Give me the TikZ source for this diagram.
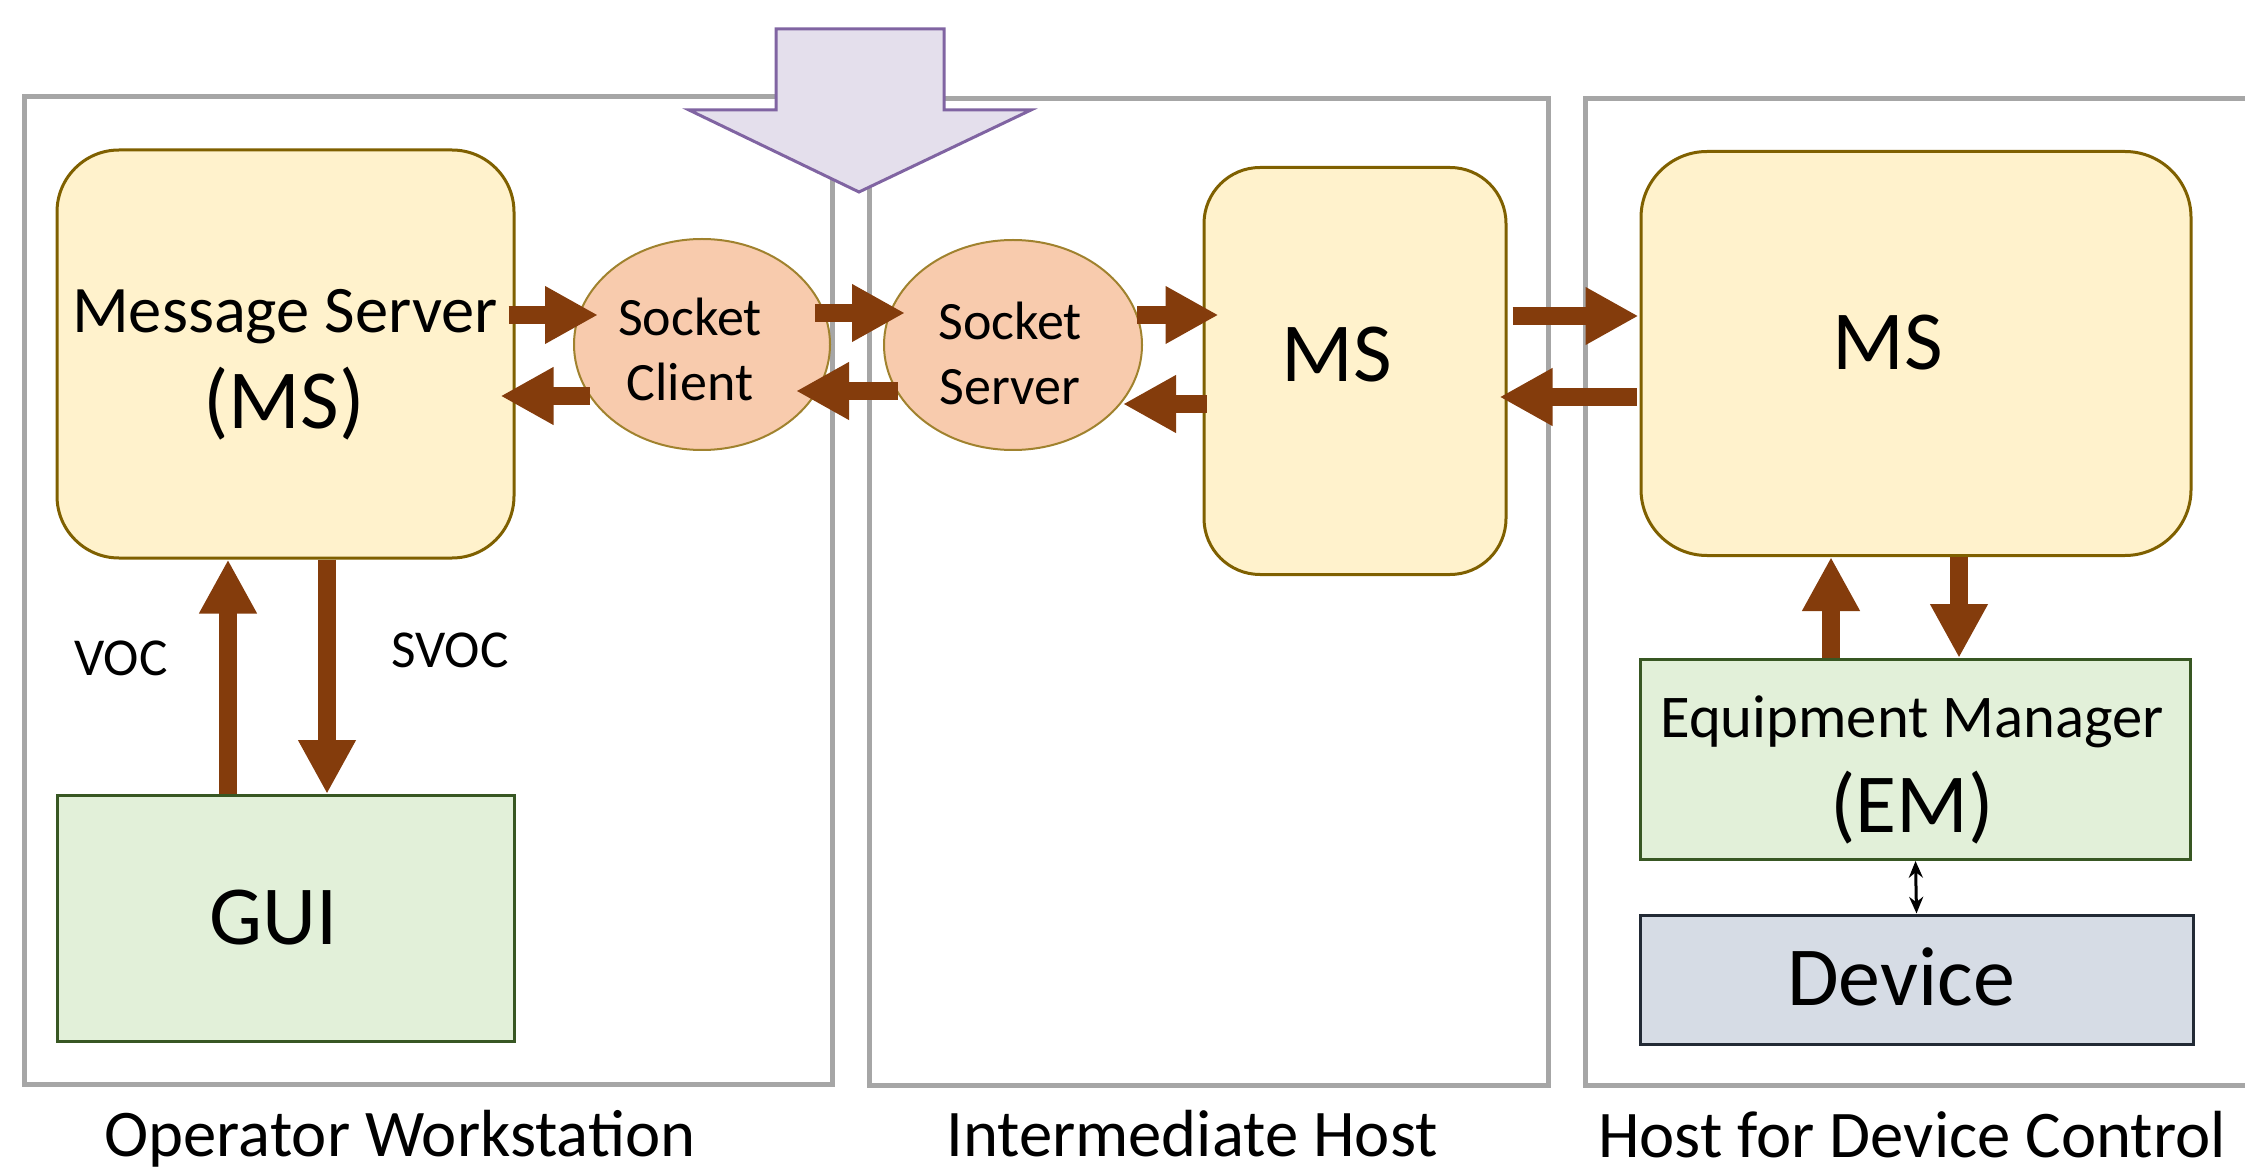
\documentclass[tikz,border=0pt]{standalone}
\usepackage{fontspec}
\setmainfont{Carlito}
\usetikzlibrary{arrows.meta,shapes.geometric,calc}
\newlength\pxu
\setlength\pxu{0.3pt}
\definecolor{msfill}{HTML}{FFF2CC}
\definecolor{msdraw}{HTML}{7F6000}
\definecolor{skfill}{HTML}{F8CBAD}
\definecolor{skdraw}{HTML}{A0822E}
\definecolor{gfill}{HTML}{E2F0D9}
\definecolor{gdraw}{HTML}{385723}
\definecolor{dfill}{HTML}{D6DCE5}
\definecolor{ddraw}{HTML}{222A35}
\definecolor{arrowbrown}{HTML}{843C0C}
\definecolor{framegray}{HTML}{A6A6A6}
\definecolor{pfill}{HTML}{E4DFEC}
\definecolor{pdraw}{HTML}{8064A2}
\begin{document}
\begin{tikzpicture}[x=0.3pt,y=-0.3pt,
  frame/.style={draw=framegray,line width=1.5pt},
  msbox/.style={rectangle,draw=msdraw,fill=msfill,line width=0.9pt,inner sep=0pt},
  sock/.style={ellipse,draw=skdraw,fill=skfill,line width=0.6pt,inner sep=0pt},
  gbox/.style={rectangle,draw=gdraw,fill=gfill,line width=0.9pt,inner sep=0pt},
  dbox/.style={rectangle,draw=ddraw,fill=dfill,line width=0.9pt,inner sep=0pt},
  fat/.style={draw=arrowbrown,line width=5.4pt,-{Triangle[width=16.2pt,length=15.9pt]}},
  fatv/.style={draw=arrowbrown,line width=5.6pt,-{Triangle[width=16.2pt,length=16.2pt]}},
  txt/.style={anchor=base,inner sep=0pt,font=\fontsize{25.2pt}{29pt}\selectfont},
  sktxt/.style={txt,font=\fontsize{16.2pt}{19pt}\selectfont},
  lbl/.style={anchor=base,inner sep=0pt,font=\fontsize{20pt}{24pt}\selectfont}
]
\useasboundingbox (0,0) rectangle (2245,1170);

% host frames
\draw[frame] (24,97) rectangle (832,1084);
\draw[frame] (869,99) rectangle (1548,1085);
\draw[frame] (2245,99) -- (1585,99) -- (1585,1085) -- (2245,1085);

% purple block arrow
\draw[draw=pdraw,fill=pfill,line width=0.9pt,line join=miter]
  (776,29) -- (944,29) -- (944,110) -- (1031,110) -- (859,192) -- (689,110) -- (776,110) -- cycle;

% boxes
\node[msbox,rounded corners=62\pxu,minimum width=457\pxu,minimum height=408\pxu] (ms1) at (285.5,354) {};
\node[msbox,rounded corners=56\pxu,minimum width=302\pxu,minimum height=407\pxu] (ms2) at (1355,371) {};
\node[msbox,rounded corners=66\pxu,minimum width=550\pxu,minimum height=404\pxu] (ms3) at (1916,353.5) {};
\node[sock,minimum width=256\pxu,minimum height=211\pxu] (sc) at (702,344.5) {};
\node[sock,minimum width=258\pxu,minimum height=210\pxu] (ss) at (1013,345) {};
\node[gbox,minimum width=457\pxu,minimum height=246\pxu] (gui) at (285.5,918.5) {};
\node[gbox,minimum width=550\pxu,minimum height=200\pxu] (em) at (1915.5,759.5) {};
\node[dbox,minimum width=553\pxu,minimum height=129\pxu] (dev) at (1916.5,979.5) {};

% texts
\node[txt,font=\fontsize{19.95pt}{24pt}\selectfont] (t1) at (285,333) {Message Server};
\node[txt] (t2) at (284,429) {(MS)};
\node[sktxt] (t3) at (690,336) {Socket};
\node[sktxt] (t4) at (690,401) {Client};
\node[sktxt] (t5) at (1010,340) {Socket};
\node[sktxt] (t6) at (1010,405) {Server};
\node[txt] (t7) at (1337,382) {MS};
\node[txt] (t8) at (1888,370) {MS};
\node[txt] (t9) at (274,944) {GUI};
\node[txt,font=\fontsize{18.2pt}{22pt}\selectfont] (t10) at (1912,737) {Equipment Manager};
\node[txt] (t11) at (1912,832) {(EM)};
\node[txt] (t12) at (1901,1005) {Device};
\node[txt,font=\fontsize{16pt}{19pt}\selectfont] (voc) at (121,675) {VOC};
\node[txt,font=\fontsize{16pt}{19pt}\selectfont] (svoc) at (450,667) {SVOC};
\node[lbl] (h1) at (400,1156) {Operator Workstation};
\node[lbl] (h2) at (1192,1156) {Intermediate Host};
\node[lbl] (h3) at (1912,1157) {Host for Device Control};

% horizontal fat arrows
\draw[fat] ($(ms1.east |- 0,315)+(-7,0)$) -- ($(sc.west |- 0,315)+(25,0)$);
\draw[fat] ($(sc.west |- 0,396)+(17,0)$) -- ($(ms1.east |- 0,396)+(-15,0)$);
\draw[fat] ($(sc.east |- 0,313)+(-16,0)$) -- ($(ss.west |- 0,313)+(22,0)$);
\draw[fat] ($(ss.west |- 0,391)+(15,0)$) -- ($(sc.east |- 0,391)+(-35,0)$);
\draw[fat] ($(ss.east |- 0,315)+(-6,0)$) -- ($(ms2.west |- 0,315)+(16,0)$);
\draw[fat] ($(ms2.west |- 0,404)+(4,0)$) -- ($(ss.east |- 0,404)+(-20,0)$);
\draw[fat] ($(ms2.east |- 0,316)+(5,0)$) -- ($(ms3.west |- 0,316)+(-1,0)$);
\draw[fat] ($(ms3.west |- 0,397)+(-3,0)$) -- ($(ms2.east |- 0,397)+(-8,0)$);

% vertical fat arrows
\draw[fatv] (228,0 |- gui.north) -- (228,0 |- ms1.south);
\draw[fatv] (327,0 |- ms1.south) -- (327,0 |- gui.north);
\draw[fatv] (1831,0 |- em.north) -- (1831,0 |- ms3.south);
\draw[fatv] (1959,0 |- ms3.south) -- (1959,0 |- em.north);

% EM <-> Device
\draw[black,line width=0.9pt,{Stealth[length=5pt,width=4.2pt]}-{Stealth[length=5pt,width=4.2pt]}]
  (em.south) -- (dev.north);
\end{tikzpicture}
\end{document}
